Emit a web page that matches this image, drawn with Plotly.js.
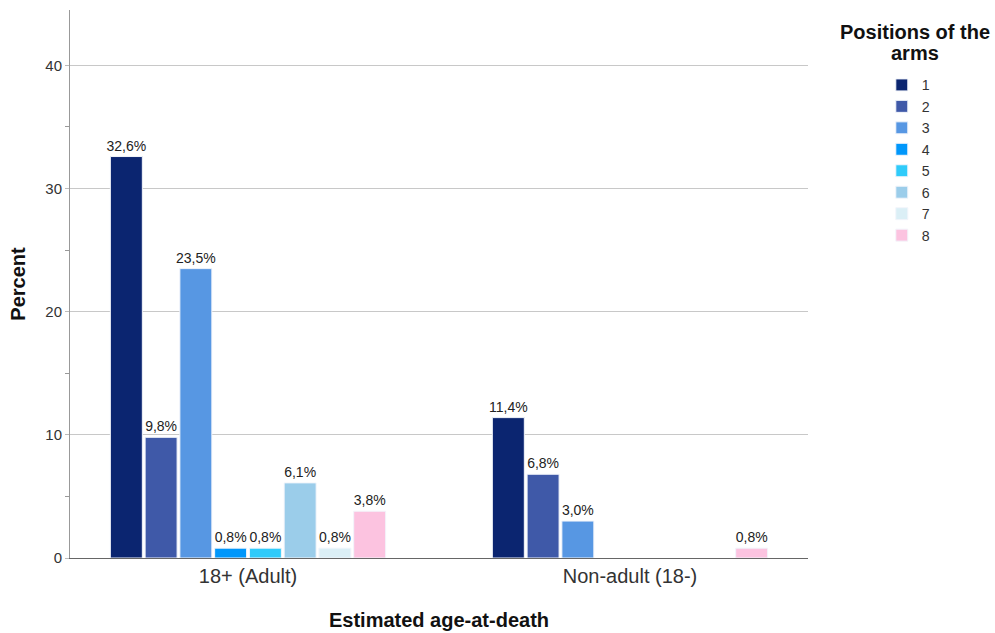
<!DOCTYPE html>
<html><head><meta charset="utf-8">
<script src="https://cdn.plot.ly/plotly-3.0.1.min.js"></script>
<style>html,body{margin:0;padding:0;background:#fff}#chart{width:995px;height:633px}</style>
</head><body><div id="chart"></div>
<script>
const categories = ["18+ (Adult)", "Non-adult (18-)"];
const seriesNames = ["1","2","3","4","5","6","7","8"];
const seriesColors = ["#0b2570","#3f59a8","#5797e3","#0097fb","#2fcbfa","#9bcdea","#dbeff6","#fcc3e0"];
const s1 = [32.6, 11.4];
const s2 = [9.8, 6.8];
const s3 = [23.5, 3.0];
const s4 = [0.8, null];
const s5 = [0.8, null];
const s6 = [6.1, null];
const s7 = [0.8, null];
const s8 = [3.8, 0.8];
const seriesValues = [s1,s2,s3,s4,s5,s6,s7,s8];
const legendTitleLines = ["Positions of the", "arms"];

const FONT = 'Liberation Sans, Arial, sans-serif';

const traces = seriesValues.map((vals, i) => ({
  type: 'bar',
  name: seriesNames[i],
  x: categories,
  y: vals,
  marker: {color: seriesColors[i], line: {color: '#f2f5fb', width: 1}},
  texttemplate: '%{y:.1f}%',
  textposition: 'outside',
  constraintext: 'none',
  cliponaxis: false,
  textfont: {family: FONT, size: 14, color: '#222'},
  hoverinfo: 'skip'
}));

const layout = {
  width: 995, height: 633,
  margin: {l: 70, r: 187, t: 10, b: 75},
  paper_bgcolor: '#fff', plot_bgcolor: '#fff',
  separators: ',.',
  font: {family: FONT, size: 14, color: '#333'},
  barmode: 'group',
  bargap: 0.272,
  bargroupgap: 0.08,
  xaxis: {
    type: 'category',
    range: [-0.466, 1.466],
    showgrid: false,
    showline: true, linecolor: '#666', linewidth: 1,
    ticks: '', tickfont: {size: 20, color: '#333'},
    title: {text: 'Estimated age-at-death', font: {size: 20, color: '#111', weight: 'bold'}, standoff: 26},
    fixedrange: true
  },
  yaxis: {
    range: [0, 44.5],
    tickvals: [0,10,20,30,40],
    showgrid: true, gridcolor: '#c8c8c8', gridwidth: 1,
    showline: true, linecolor: '#999', linewidth: 1,
    ticks: 'outside', ticklen: 4, tickcolor: '#bbb',
    tickfont: {size: 15, color: '#333'},
    minor: {tickvals: [5,15,25,35], ticks: 'outside', ticklen: 4, tickcolor: '#999', showgrid: false},
    zeroline: false,
    title: {text: 'Percent', font: {size: 20, color: '#111', weight: 'bold'}, standoff: 14},
    fixedrange: true
  },
  legend: {
    x: 1.1, xanchor: 'left', xref: 'paper',
    y: 0.892, yanchor: 'top',
    font: {size: 14.2, color: '#333'},
    bgcolor: 'rgba(0,0,0,0)'
  },
  annotations: [
    {xref: 'paper', yref: 'paper', x: 1.145, y: 0.9599, xanchor: 'center', yanchor: 'middle', showarrow: false,
     text: legendTitleLines[0], font: {size: 20, color: '#111', weight: 'bold'}},
    {xref: 'paper', yref: 'paper', x: 1.145, y: 0.9215, xanchor: 'center', yanchor: 'middle', showarrow: false,
     text: legendTitleLines[1], font: {size: 20, color: '#111', weight: 'bold'}}
  ],
  showlegend: true
};

Plotly.newPlot('chart', traces, layout, {displayModeBar: false, staticPlot: true});
</script>
</body></html>
